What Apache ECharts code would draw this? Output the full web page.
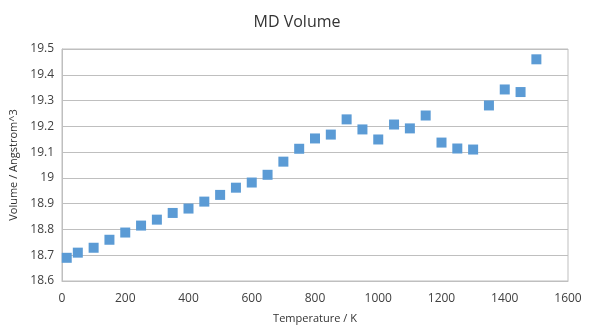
<!DOCTYPE html>
<html><head><meta charset="utf-8">
<script src="https://cdn.jsdelivr.net/npm/echarts@6/dist/echarts.min.js"></script>
<style>html,body{margin:0;padding:0;background:#fff}#c{width:594px;height:333px}</style>
</head><body><div id="c"></div>
<script>
const temperatures = [15,50,100,150,200,250,300,350,400,450,500,550,600,650,700,750,800,850,900,950,1000,1050,1100,1150,1200,1250,1300,1350,1400,1450,1500];
const volumes = [18.690,18.710,18.729,18.760,18.788,18.815,18.838,18.864,18.881,18.908,18.934,18.962,18.982,19.012,19.063,19.113,19.153,19.168,19.227,19.188,19.149,19.207,19.192,19.242,19.137,19.114,19.110,19.281,19.343,19.333,19.460];
const titleText = 'MD Volume';
const xName = 'Temperature / K';
const yName = 'Volume / Angstrom^3';

const chart = echarts.init(document.getElementById('c'));
const font = 'Open Sans, Liberation Sans, sans-serif';
chart.setOption({
  animation: false,
  title: {text: titleText, left: 'center', top: 9, textStyle: {fontFamily: font, fontSize: 16, fontWeight: 'normal', color: '#333'}},
  grid: {left: 62, right: 26, top: 49, bottom: 52, show: true, borderColor: '#bfbfbf', borderWidth: 1},
  xAxis: {
    type: 'value', min: 0, max: 1600, interval: 200,
    name: xName, nameLocation: 'middle', nameGap: 32,
    nameTextStyle: {fontFamily: font, fontSize: 11, color: '#333'},
    axisLine: {show: true, lineStyle: {color: '#bfbfbf'}},
    axisTick: {show: false},
    splitLine: {show: false},
    axisLabel: {fontFamily: font, fontSize: 12, color: '#404040', margin: 12,
      formatter: v => String(v)}
  },
  yAxis: {
    type: 'value', min: 18.6, max: 19.5, interval: 0.1,
    name: yName, nameLocation: 'middle', nameGap: 40, nameRotate: 90,
    nameTextStyle: {fontFamily: font, fontSize: 11, color: '#333'},
    axisLine: {show: true, lineStyle: {color: '#bfbfbf'}},
    axisTick: {show: false},
    splitLine: {show: true, lineStyle: {color: '#bfbfbf'}},
    axisLabel: {fontFamily: font, fontSize: 12, color: '#404040', margin: 8,
      formatter: v => String(Math.round(v*10)/10)}
  },
  series: [{
    type: 'scatter', symbol: 'rect', symbolSize: 10,
    itemStyle: {color: '#5B9BD5', opacity: 1},
    data: temperatures.map((t, i) => [t, volumes[i]])
  }]
});
</script></body></html>
